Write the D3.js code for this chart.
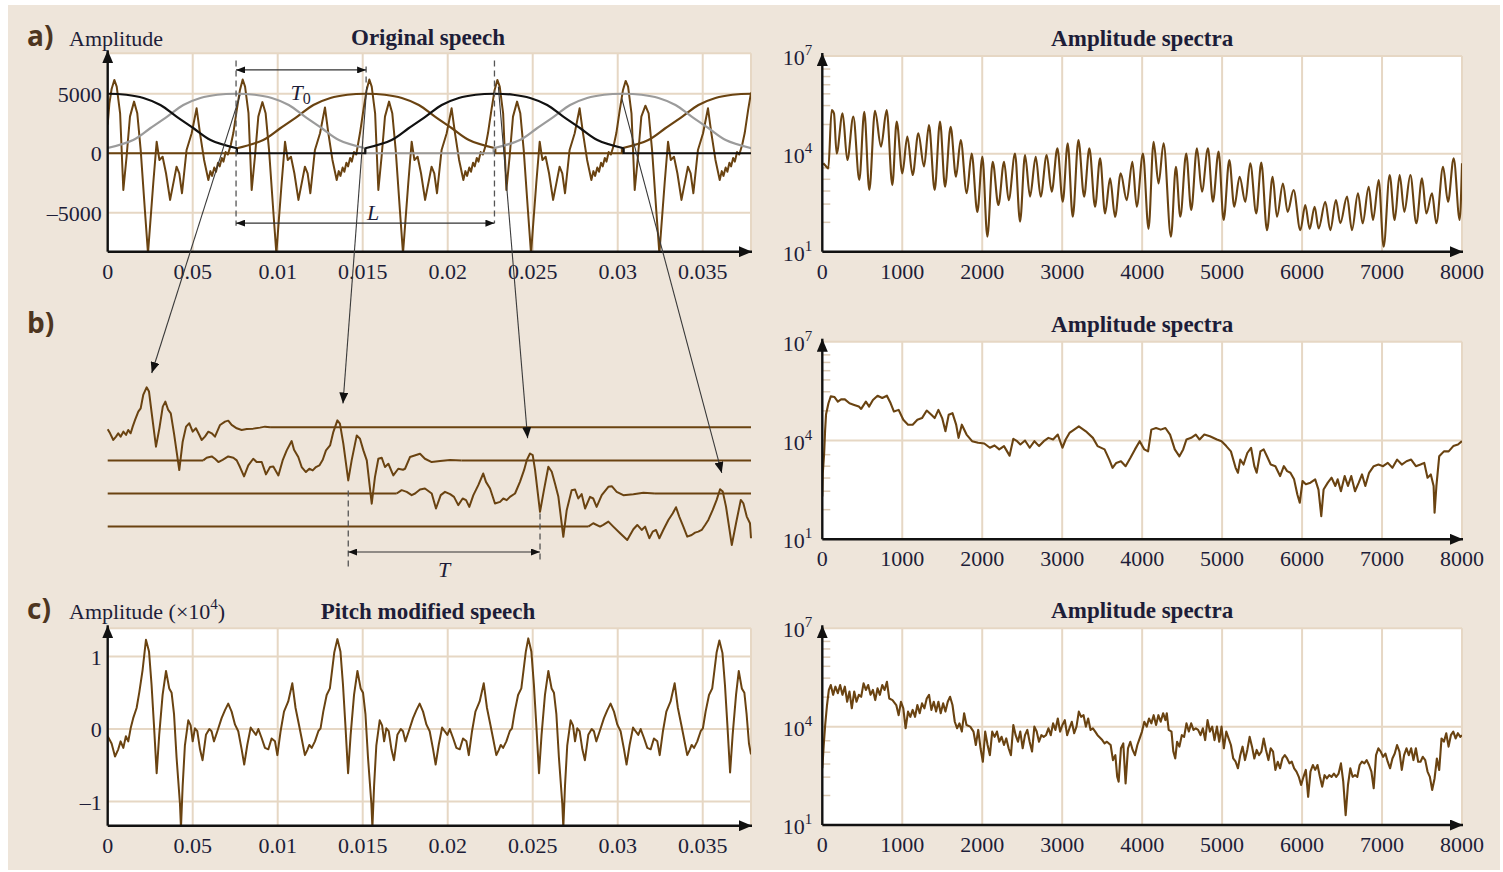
<!DOCTYPE html>
<html>
<head>
<meta charset="utf-8">
<script src="https://cdn.jsdelivr.net/npm/d3@7"></script>
<style>
  body { margin: 0; background: #fff; }
  svg { display: block; }
  text { font-family: "Liberation Serif", "Times New Roman", serif; fill: #1d1d38; }
</style>
</head>
<body>
<svg id="fig" width="1503" height="872"></svg>
<script>
// ---- data (times in ms, spectra as log10 amplitude) ----
const timeDomain = [0, 37.84];
const timeTicks = [0, 5, 10, 15, 20, 25, 30, 35];
const timeTickLabels = ["0", "0.05", "0.01", "0.015", "0.02", "0.025", "0.03", "0.035"];
const ampTicksA = [5000, 0, -5000];
const ampTickLabelsA = ["5000", "0", "\u20135000"];
const ampTicksC = [1, 0, -1];
const ampTickLabelsC = ["1", "0", "\u20131"];
const freqTicks = [0, 1000, 2000, 3000, 4000, 5000, 6000, 7000, 8000];
const specExpTicks = [7, 4, 1];
const specMinorExp = [6.6, 6.37, 6.12, 5.84, 5.48, 4.9, 3.57, 3.22, 2.86, 2.46, 1.9];

const waveA = [
  [0,2400],[0.1,4200],[0.23,5400],[0.39,6160],[0.53,5600],[0.73,3360],[0.92,-3080],[1.11,-290],[1.31,3080],[1.55,4340],[1.74,3360],[1.94,280],[2.2,-5040],[2.37,-8400],[2.68,-2520],[2.88,970],[3.04,-560],[3.23,-290],[3.43,-1680],[3.67,-3920],[3.9,-2240],[4.05,-1130],[4.21,-1680],[4.37,-3360],[4.64,280],[4.94,1680],[5.23,3780],[5.43,1680],[5.67,-560],[5.92,-2240],[6.04,-1500],[6.14,-1900],[6.27,-1200],[6.37,-1550],[6.49,-800],[6.59,-1100],[6.71,-400],[6.81,-700],[6.94,100],[7.07,-100],[7.24,700],[7.39,1700],[7.59,3630],[7.78,5320],
  [7.94,6200],[8.08,5600],[8.28,3400],[8.47,-3080],[8.66,-290],[8.86,3080],[9.1,4300],[9.29,3360],[9.49,280],[9.75,-5040],[9.92,-8400],[10.23,-2520],[10.43,970],[10.59,-560],[10.78,-290],[10.98,-1680],[11.22,-3920],[11.45,-2240],[11.6,-1130],[11.76,-1680],[11.92,-3360],[12.19,280],[12.49,1680],[12.78,3850],[12.98,1680],[13.22,-560],[13.47,-2240],[13.59,-1500],[13.69,-1900],[13.82,-1200],[13.92,-1550],[14.04,-800],[14.14,-1100],[14.26,-400],[14.36,-700],[14.49,100],[14.62,-100],[14.84,1700],[15.04,3630],[15.23,5320],
  [15.39,6200],[15.53,5600],[15.73,3360],[15.92,-3080],[16.11,-290],[16.31,3080],[16.55,4340],[16.74,3360],[16.94,280],[17.2,-5040],[17.37,-8400],[17.68,-2520],[17.88,970],[18.04,-560],[18.23,-290],[18.43,-1680],[18.67,-3920],[18.9,-2240],[19.05,-1130],[19.21,-1680],[19.37,-3360],[19.64,280],[19.94,1680],[20.23,3780],[20.43,1680],[20.67,-560],[20.92,-2240],[21.04,-1500],[21.14,-1900],[21.27,-1200],[21.37,-1550],[21.49,-800],[21.59,-1100],[21.71,-400],[21.81,-700],[21.94,100],[22.07,-100],[22.24,700],[22.37,1700],[22.57,3630],[22.76,5320],
  [22.92,6160],[23.06,5600],[23.26,3360],[23.45,-3080],[23.64,-290],[23.84,3080],[24.08,4340],[24.27,3360],[24.47,280],[24.73,-5040],[24.9,-8400],[25.21,-2520],[25.41,970],[25.57,-560],[25.76,-290],[25.96,-1680],[26.2,-3920],[26.43,-2240],[26.58,-1130],[26.74,-1680],[26.9,-3360],[27.17,280],[27.47,1680],[27.76,3780],[27.96,1680],[28.2,-560],[28.45,-2240],[28.57,-1500],[28.67,-1900],[28.8,-1200],[28.9,-1550],[29.02,-800],[29.12,-1100],[29.24,-400],[29.34,-700],[29.47,100],[29.6,-100],[29.77,700],[29.92,1700],[30.12,3630],[30.31,5320],
  [30.47,6080],[30.61,5600],[30.81,3360],[31.0,-3080],[31.19,-290],[31.39,3080],[31.63,4000],[31.82,3360],[32.02,280],[32.28,-5040],[32.45,-8400],[32.76,-2520],[32.96,970],[33.12,-560],[33.31,-290],[33.51,-1680],[33.75,-3920],[33.98,-2240],[34.13,-1130],[34.29,-1680],[34.45,-3360],[34.72,280],[35.02,1680],[35.31,3780],[35.51,1680],[35.75,-560],[36.0,-2240],[36.12,-1500],[36.22,-1900],[36.35,-1200],[36.45,-1550],[36.57,-800],[36.67,-1100],[36.79,-400],[36.89,-700],[37.02,100],[37.15,-100],[37.32,700],[37.47,1700],[37.67,3630],[37.84,5100]
];

// analysis window: offset from centre (ms), amplitude
const windowProfile = [[-7.6,420],[-6.05,1120],[-5.05,2100],[-4.05,3080],[-3.1,4060],[-2.1,4650],[-1.1,4920],[0,5000],[1.1,4920],[2.1,4650],[3.1,4060],[4.05,3080],[5.05,2100],[6.05,1120],[7.6,420]];
const windowCentresBlack = [0, 22.75];
const windowCentresGray = [7.55, 30.3];
const windowCentresBrown = [15.2, 37.85];
const pitchMarksA = [7.55, 15.2, 22.75];

// panel b: windowed segments placed at the new pitch marks
const segB1 = [[0,-316],[0.14,-950],[0.33,-2000],[0.49,-1480],[0.62,-950],[0.76,-1480],[0.92,-690],[1.08,-1210],[1.21,-420],[1.35,-950],[1.47,105],[1.61,1160],[1.8,2480],[1.94,3000],[2.09,5110],[2.29,6320],[2.43,5640],[2.59,2210],[2.84,-3060],[3.04,-160],[3.24,3270],[3.39,4060],[3.56,2740],[3.71,2210],[3.9,-950],[4.21,-6750],[4.41,-2270],[4.61,105],[4.8,630],[5.0,-690],[5.19,-160],[5.39,-1210],[5.53,-2000],[5.72,-1480],[5.92,-690],[6.12,-950],[6.31,-1480],[6.61,370],[6.9,900],[7.09,1050],[7.29,370],[7.59,-160],[7.88,-420],[8.18,-260],[8.56,-210],[8.96,-50],[9.25,105],[9.55,0]];
const segB2 = [[5.62,0],[5.82,420],[6.12,630],[6.31,260],[6.51,-260],[6.76,100],[7.09,630],[7.39,420],[7.59,0],[7.78,-1050],[8.02,-2530],[8.27,-790],[8.56,260],[8.76,-260],[9.06,-260],[9.31,-2210],[9.55,-1050],[9.74,-950],[10.04,-2370],[10.29,0],[10.53,1580],[10.82,3060],[10.96,1690],[11.21,530],[11.41,-1050],[11.66,-1840],[11.86,-1320],[12.06,-1580],[12.25,-1050],[12.45,-790],[12.65,105],[12.84,1580],[13.08,2370],[13.27,4480],[13.51,6320],[13.66,5800],[13.86,2640],[14.15,-3160],[14.35,0],[14.65,3950],[14.84,3430],[15.04,1580],[15.24,0],[15.53,-6850],[15.72,-2640],[15.92,260],[16.12,420],[16.31,-1050],[16.51,-530],[16.8,-2370],[17.09,-1320],[17.37,-1480],[17.49,-1320],[17.78,530],[18.37,1050],[18.66,260],[19.06,-260],[19.55,-100],[20.14,50],[20.82,0]];
const segB3 = [[17.0,0],[17.29,530],[17.59,260],[17.88,-260],[18.08,0],[18.37,630],[18.66,790],[19.06,0],[19.31,-2370],[19.59,-260],[19.84,260],[20.14,-100],[20.37,-530],[20.62,-1840],[20.88,-790],[21.08,-1050],[21.27,-2110],[21.51,-260],[21.8,1320],[22.09,3160],[22.25,1840],[22.49,790],[22.78,-1580],[23.08,-1320],[23.27,-790],[23.47,-1050],[23.66,-530],[23.96,0],[24.25,1840],[24.49,3690],[24.65,5270],[24.84,6320],[25.0,6060],[25.14,3690],[25.43,-2900],[25.66,530],[25.92,4220],[26.12,3430],[26.31,1580],[26.51,-530],[26.8,-6850],[27.0,-2640],[27.29,530],[27.49,630],[27.68,-790],[27.88,-100],[28.08,-2370],[28.37,-530],[28.56,-790],[28.76,-2110],[29.06,-260],[29.45,1050],[29.65,1160],[29.94,260],[30.33,-260],[30.92,-100],[31.51,100],[32.19,0]];
const segB4 = [[28.27,0],[28.56,530],[28.96,0],[29.15,260],[29.45,790],[29.74,0],[30.14,-1050],[30.56,-2110],[30.92,-420],[31.15,260],[31.41,-530],[31.61,0],[31.86,-1840],[32.06,-790],[32.25,-530],[32.45,-1840],[32.68,-530],[32.98,1050],[33.24,2110],[33.43,3060],[33.62,1580],[33.86,0],[34.09,-1580],[34.35,-1320],[34.55,-950],[34.74,-790],[34.94,-530],[35.14,260],[35.33,1050],[35.59,2640],[35.82,4220],[36.02,5900],[36.18,5530],[36.37,3160],[36.71,-2900],[36.96,530],[37.24,4220],[37.39,3690],[37.59,1580],[37.78,530],[37.84,-1840]];
const pitchMarksB = [14.15, 25.43];

// lines from analysis peaks (panel a: time, amplitude) to segment peaks (panel b: segment, time, amplitude)
const crossArrows = [
  { from: [7.79, 4900], seg: 0, to: [2.59, 8580] },
  { from: [15.24, 5600], seg: 1, to: [13.84, 9000] },
  { from: [22.98, 5600], seg: 2, to: [24.7, 8740] },
  { from: [30.24, 4620], seg: 3, to: [36.12, 8480] }
];

const waveC = [
  [0,-0.1],[0.23,-0.2],[0.43,-0.38],[0.62,-0.28],[0.76,-0.17],[0.92,-0.26],[1.07,-0.1],[1.21,-0.17],[1.35,0.01],[1.5,0.15],[1.7,0.29],[1.86,0.51],[2.05,0.81],[2.25,1.23],[2.43,1.07],[2.58,0.61],[2.72,0.06],[2.88,-0.61],[3.03,-0.08],[3.23,0.47],[3.43,0.8],[3.62,0.56],[3.76,0.5],[3.9,0.21],[4.05,-0.39],[4.25,-1.03],[4.31,-1.36],[4.41,-0.78],[4.54,-0.23],[4.74,0.12],[4.88,0.05],[5.0,-0.17],[5.13,0.01],[5.27,-0.03],[5.43,-0.28],[5.58,-0.43],[5.78,-0.08],[5.98,0.0],[6.11,-0.03],[6.25,-0.17],[6.45,-0.03],[6.7,0.15],[6.9,0.26],[7.09,0.35],[7.29,0.24],[7.49,0.06],[7.68,-0.03],[7.88,-0.28],[8.03,-0.49],[8.21,-0.22],[8.41,0.02],[8.56,-0.03],[8.72,-0.08],[8.86,0.0],[9.05,-0.12],[9.25,-0.26],[9.45,-0.28],[9.64,-0.13],[9.84,-0.17],[9.98,-0.36],[10.17,-0.03],[10.37,0.24],[10.62,0.38],[10.86,0.63],[11.05,0.29],[11.25,0.06],[11.41,-0.13],[11.6,-0.36],[11.74,-0.29],[11.86,-0.22],[12.0,-0.26],[12.19,-0.17],[12.39,-0.03],[12.52,0.01],[12.68,0.24],[12.88,0.47],[13.07,0.56],[13.21,0.83],[13.33,1.06],
  [13.51,1.24],[13.69,1.07],[13.84,0.61],[13.98,0.06],[14.14,-0.61],[14.29,-0.08],[14.49,0.47],[14.69,0.8],[14.88,0.56],[15.02,0.5],[15.16,0.21],[15.31,-0.39],[15.51,-1.03],[15.57,-1.36],[15.67,-0.78],[15.8,-0.23],[16.0,0.12],[16.14,0.05],[16.26,-0.17],[16.39,0.01],[16.53,-0.03],[16.69,-0.28],[16.84,-0.43],[17.04,-0.08],[17.24,0.0],[17.37,-0.03],[17.51,-0.17],[17.71,-0.03],[17.96,0.15],[18.16,0.26],[18.35,0.35],[18.55,0.24],[18.75,0.06],[18.94,-0.03],[19.14,-0.28],[19.29,-0.49],[19.47,-0.22],[19.67,0.02],[19.82,-0.03],[19.98,-0.08],[20.12,0.0],[20.31,-0.12],[20.51,-0.26],[20.71,-0.28],[20.9,-0.13],[21.1,-0.17],[21.24,-0.36],[21.43,-0.03],[21.63,0.24],[21.88,0.38],[22.12,0.63],[22.31,0.29],[22.51,0.06],[22.67,-0.13],[22.86,-0.36],[23.0,-0.29],[23.12,-0.22],[23.26,-0.26],[23.45,-0.17],[23.65,-0.03],[23.78,0.01],[23.94,0.24],[24.14,0.47],[24.33,0.56],[24.47,0.83],[24.59,1.06],
  [24.74,1.25],[24.92,1.07],[25.07,0.61],[25.21,0.06],[25.37,-0.61],[25.52,-0.08],[25.72,0.47],[25.92,0.8],[26.11,0.56],[26.25,0.5],[26.39,0.21],[26.54,-0.39],[26.74,-1.03],[26.8,-1.36],[26.9,-0.78],[27.03,-0.23],[27.23,0.12],[27.37,0.05],[27.49,-0.17],[27.62,0.01],[27.76,-0.03],[27.92,-0.28],[28.07,-0.43],[28.27,-0.08],[28.47,0.0],[28.6,-0.03],[28.74,-0.17],[28.94,-0.03],[29.19,0.15],[29.39,0.26],[29.58,0.35],[29.78,0.24],[29.98,0.06],[30.17,-0.03],[30.37,-0.28],[30.52,-0.49],[30.7,-0.22],[30.9,0.02],[31.05,-0.03],[31.21,-0.08],[31.35,0.0],[31.54,-0.12],[31.74,-0.26],[31.94,-0.28],[32.13,-0.13],[32.33,-0.17],[32.47,-0.36],[32.66,-0.03],[32.86,0.24],[33.11,0.38],[33.35,0.63],[33.54,0.29],[33.74,0.06],[33.9,-0.13],[34.09,-0.36],[34.23,-0.29],[34.35,-0.22],[34.49,-0.26],[34.68,-0.17],[34.88,-0.03],[35.01,0.01],[35.17,0.24],[35.37,0.47],[35.56,0.56],[35.7,0.83],[35.82,1.06],
  [35.98,1.22],[36.16,1.05],[36.31,0.6],[36.45,0.06],[36.61,-0.6],[36.76,-0.08],[36.96,0.47],[37.12,0.8],[37.3,0.56],[37.45,0.5],[37.58,0.21],[37.72,-0.2],[37.84,-0.35]
];

const specA = [[12,3.71],[54,3.6],[75,3.55],[117,5.34],[146,5.24],[179,4.01],[254,5.24],[313,3.81],[388,5.14],[463,3.2],[525,5.29],[588,2.89],[659,5.32],[734,4.22],[805,5.34],[876,3.04],[930,4.99],[1001,3.4],[1063,4.53],[1130,3.35],[1201,4.63],[1272,3.61],[1334,4.88],[1405,2.89],[1472,4.99],[1535,2.99],[1605,4.83],[1672,3.3],[1731,4.42],[1806,2.79],[1868,4.01],[1939,2.22],[2002,3.91],[2064,1.46],[2131,3.76],[2202,2.43],[2273,3.76],[2331,2.58],[2410,4.01],[2473,1.92],[2535,3.96],[2598,2.69],[2669,3.91],[2731,2.69],[2806,3.96],[2869,2.84],[2940,4.17],[3007,2.53],[3069,4.32],[3132,2.07],[3203,4.42],[3274,2.69],[3340,4.17],[3411,2.38],[3474,3.86],[3536,2.17],[3599,3.25],[3661,2.07],[3732,3.4],[3807,2.58],[3878,3.76],[3932,2.38],[4010,4.01],[4080,1.7],[4143,4.37],[4205,3.09],[4268,4.32],[4360,1.46],[4422,3.6],[4477,2.07],[4551,4.01],[4614,2.28],[4685,4.17],[4748,2.84],[4823,4.17],[4885,2.53],[4956,4.07],[5019,1.97],[5090,3.81],[5152,2.38],[5219,3.3],[5290,2.53],[5352,3.71],[5427,2.17],[5490,3.73],[5561,1.66],[5632,3.3],[5686,2.07],[5761,3.09],[5819,2.22],[5894,2.89],[5978,1.66],[6040,2.43],[6095,1.7],[6157,2.38],[6207,1.71],[6290,2.53],[6353,1.66],[6424,2.58],[6478,1.87],[6562,2.69],[6624,1.66],[6699,2.79],[6758,1.87],[6833,2.99],[6887,1.97],[6958,3.2],[7020,1.15],[7095,3.35],[7158,1.97],[7220,3.35],[7279,2.22],[7354,3.35],[7429,1.87],[7500,3.25],[7554,2.17],[7625,2.79],[7679,1.87],[7763,3.6],[7825,2.53],[7896,3.86],[7971,1.97],[8000,3.71]];

const specB = [[0,2.3],[6,3.0],[23,3.6],[35,4.3],[47,4.8],[77,5.13],[106,5.34],[153,5.32],[194,5.18],[235,5.25],[282,5.25],[340,5.13],[399,5.08],[457,5.03],[486,4.96],[545,5.18],[586,5.03],[633,5.23],[691,5.36],[750,5.29],[808,5.36],[855,5.13],[896,4.88],[955,4.93],[1013,4.63],[1072,4.48],[1130,4.48],[1189,4.63],[1247,4.68],[1306,4.91],[1364,4.78],[1405,4.68],[1452,4.93],[1499,4.68],[1540,4.28],[1581,4.78],[1628,4.83],[1674,4.48],[1704,4.08],[1745,4.48],[1804,4.18],[1873,3.98],[1949,3.93],[2026,3.91],[2096,3.78],[2154,3.85],[2213,3.73],[2272,3.83],[2342,3.54],[2389,4.05],[2436,3.98],[2477,3.88],[2535,4.0],[2594,3.78],[2653,3.98],[2711,3.83],[2770,3.98],[2828,4.08],[2886,4.03],[2945,4.18],[3003,3.78],[3044,4.03],[3091,4.23],[3150,4.33],[3208,4.43],[3296,4.28],[3384,4.08],[3442,3.83],[3530,3.73],[3589,3.42],[3630,3.17],[3676,3.32],[3735,3.37],[3793,3.22],[3852,3.47],[3910,3.73],[3969,3.98],[4027,3.73],[4074,3.67],[4115,4.33],[4174,4.38],[4232,4.33],[4291,4.38],[4349,4.18],[4408,3.73],[4466,3.52],[4513,3.73],[4554,4.03],[4613,4.08],[4671,4.18],[4718,4.03],[4777,4.18],[4847,4.13],[4935,4.03],[4993,3.98],[5052,3.83],[5110,3.67],[5169,3.17],[5198,3.02],[5227,3.42],[5268,3.27],[5315,3.62],[5362,3.78],[5403,3.22],[5432,3.02],[5479,3.67],[5520,3.73],[5561,3.52],[5608,3.27],[5666,3.22],[5725,2.92],[5772,3.22],[5813,3.07],[5854,3.02],[5900,2.82],[5941,2.36],[5971,2.11],[6006,2.77],[6047,2.67],[6105,2.72],[6164,2.82],[6205,2.51],[6240,1.7],[6269,2.51],[6322,2.72],[6369,2.87],[6416,2.62],[6445,2.82],[6486,2.46],[6533,2.92],[6574,2.62],[6615,2.92],[6662,2.46],[6709,2.72],[6750,2.97],[6791,2.62],[6838,3.02],[6896,3.22],[6955,3.27],[7013,3.22],[7072,3.32],[7130,3.17],[7189,3.42],[7247,3.27],[7306,3.37],[7364,3.42],[7423,3.22],[7481,3.27],[7528,3.32],[7569,2.87],[7610,2.97],[7645,2.62],[7657,1.81],[7680,2.62],[7715,3.52],[7774,3.67],[7833,3.67],[7891,3.83],[7950,3.88],[8000,3.98]];

const specC = [[0,2.73],[18,3.44],[36,4.05],[59,4.66],[82,5.12],[106,5.27],[135,4.97],[164,5.22],[194,5.02],[223,5.27],[252,4.97],[282,5.22],[311,4.76],[340,5.07],[369,4.56],[399,5.07],[428,4.76],[457,4.97],[486,4.91],[516,5.32],[545,5.12],[574,5.27],[603,4.97],[633,5.12],[662,4.81],[691,5.17],[720,4.97],[750,5.27],[779,5.12],[808,5.37],[837,4.86],[878,4.81],[925,4.66],[955,4.35],[984,4.76],[1013,4.56],[1042,3.95],[1072,4.46],[1101,4.3],[1130,4.51],[1160,4.3],[1189,4.66],[1218,4.41],[1247,4.71],[1277,4.56],[1306,4.86],[1335,4.97],[1364,4.51],[1394,4.76],[1423,4.46],[1452,4.76],[1481,4.41],[1511,4.71],[1540,4.46],[1569,4.76],[1598,4.91],[1628,4.66],[1657,4.15],[1686,3.95],[1715,4.1],[1745,3.85],[1774,4.41],[1803,4.05],[1850,4.0],[1891,3.85],[1920,3.44],[1950,3.9],[1979,3.34],[2008,2.93],[2037,3.85],[2067,3.44],[2096,3.13],[2125,3.85],[2155,3.69],[2184,3.85],[2213,3.54],[2242,3.69],[2272,3.44],[2301,3.64],[2330,3.34],[2359,3.13],[2389,4.05],[2418,3.74],[2447,3.54],[2476,3.85],[2506,3.34],[2535,3.74],[2564,3.9],[2593,3.54],[2623,3.24],[2652,4.0],[2681,3.85],[2710,3.54],[2740,3.74],[2769,3.69],[2798,3.74],[2828,3.95],[2857,3.74],[2886,4.1],[2915,3.9],[2945,4.25],[2974,3.85],[3003,4.05],[3033,4.2],[3062,3.74],[3091,3.95],[3120,4.15],[3150,3.8],[3179,4.0],[3208,4.46],[3237,4.3],[3267,4.35],[3296,4.0],[3325,4.25],[3355,3.9],[3384,3.95],[3413,3.85],[3442,3.74],[3501,3.59],[3530,3.49],[3559,3.54],[3606,3.44],[3635,2.98],[3665,3.13],[3688,2.47],[3706,2.32],[3735,3.34],[3764,3.49],[3793,2.27],[3823,3.34],[3852,3.54],[3881,3.29],[3910,3.13],[3940,3.44],[3969,3.64],[3998,3.85],[4027,4.15],[4057,4.0],[4086,4.25],[4115,4.1],[4144,4.35],[4174,4.05],[4203,4.35],[4232,4.15],[4262,4.41],[4291,4.2],[4308,4.41],[4332,3.9],[4367,3.85],[4390,3.24],[4414,3.03],[4437,3.54],[4466,3.39],[4496,3.74],[4525,3.69],[4554,4.1],[4584,3.85],[4613,4.1],[4642,3.9],[4671,3.95],[4700,3.9],[4730,3.74],[4759,3.95],[4788,3.59],[4818,4.2],[4847,3.85],[4876,4.0],[4905,3.59],[4935,4.0],[4964,3.54],[4993,4.0],[5022,3.34],[5052,3.85],[5081,3.64],[5110,3.44],[5139,3.03],[5169,2.93],[5198,2.73],[5227,3.13],[5256,3.39],[5286,2.98],[5315,3.29],[5344,3.69],[5374,3.39],[5403,3.03],[5432,3.29],[5461,3.13],[5491,3.24],[5520,3.64],[5549,3.29],[5579,2.98],[5608,3.34],[5637,3.24],[5666,2.68],[5696,2.93],[5725,2.73],[5754,3.03],[5784,3.13],[5813,3.03],[5842,2.88],[5871,2.93],[5901,2.73],[5930,2.63],[5959,2.47],[5988,2.22],[6018,2.47],[6047,2.68],[6076,1.86],[6105,2.63],[6135,2.83],[6164,2.68],[6193,2.83],[6223,2.47],[6252,2.17],[6281,2.52],[6310,2.42],[6340,2.52],[6369,2.47],[6398,2.57],[6427,2.47],[6457,2.57],[6486,2.88],[6515,2.32],[6545,1.3],[6574,2.22],[6603,2.73],[6632,2.47],[6662,2.52],[6691,2.47],[6720,2.83],[6749,2.93],[6779,2.88],[6808,2.98],[6837,2.83],[6867,2.63],[6896,2.12],[6925,3.13],[6954,3.34],[6984,3.24],[7013,3.08],[7042,3.18],[7071,2.93],[7101,2.73],[7130,3.03],[7159,3.18],[7188,3.44],[7218,3.24],[7247,2.68],[7276,3.13],[7306,3.34],[7335,3.13],[7364,3.34],[7393,2.98],[7423,3.34],[7452,2.93],[7481,2.93],[7510,3.08],[7540,2.98],[7569,2.63],[7598,2.47],[7627,2.07],[7657,2.42],[7686,3.03],[7715,2.68],[7744,3.64],[7774,3.54],[7803,3.8],[7832,3.39],[7861,3.74],[7891,3.85],[7920,3.64],[7949,3.8],[7979,3.69],[8000,3.74]];

// ---- drawing ----
const C = { bg: "#eee5da", grid: "#e6d7c4", wave: "#6a4311", gray: "#9b9b9b", ink: "#111", letter: "#4d3520" };
const X0 = 107.7, X1 = 751, SX0 = 822.3, SX1 = 1462;

const svg = d3.select("#fig");
svg.append("rect").attr("x", 8).attr("y", 5).attr("width", 1492).attr("height", 865).attr("fill", C.bg);

const defs = svg.append("defs");
function marker(id, len, half) {
  defs.append("marker").attr("id", id)
    .attr("viewBox", `0 ${-half} ${len} ${2 * half}`)
    .attr("refX", len).attr("refY", 0)
    .attr("markerUnits", "userSpaceOnUse")
    .attr("markerWidth", len).attr("markerHeight", 2 * half)
    .attr("orient", "auto-start-reverse")
    .append("path").attr("d", `M0,${-half}L${len},0L0,${half}Z`).attr("fill", C.ink);
}
marker("axisHead", 13, 5.5);
marker("dimHead", 9, 3.5);
marker("linkHead", 11, 4.5);

function clip(id, x0, x1, top, bottom) {
  defs.append("clipPath").attr("id", id).append("rect")
    .attr("x", x0).attr("y", top - 1).attr("width", x1 - x0).attr("height", bottom - top + 2);
}

function frame(x0, x1, top, bottom, xs, ys, xTicks, yTicks) {
  svg.append("rect").attr("x", x0).attr("y", top).attr("width", x1 - x0).attr("height", bottom - top).attr("fill", "#fff");
  const g = svg.append("g").attr("stroke", C.grid).attr("stroke-width", 2);
  xTicks.forEach(t => g.append("line").attr("x1", xs(t)).attr("x2", xs(t)).attr("y1", top).attr("y2", bottom));
  yTicks.forEach(v => g.append("line").attr("x1", x0).attr("x2", x1).attr("y1", ys(v)).attr("y2", ys(v)));
}

function axes(x0, x1, top, bottom) {
  const g = svg.append("g").attr("stroke", C.ink).attr("stroke-width", 2.4);
  g.append("line").attr("x1", x0).attr("y1", bottom).attr("x2", x0).attr("y2", top - 3).attr("marker-end", "url(#axisHead)");
  g.append("line").attr("x1", x0).attr("y1", bottom).attr("x2", x1 + 1).attr("y2", bottom).attr("marker-end", "url(#axisHead)");
}

function text(x, y, str, opts = {}) {
  return svg.append("text").attr("x", x).attr("y", y)
    .attr("font-size", opts.size || 22)
    .attr("font-weight", opts.bold ? "bold" : null)
    .attr("text-anchor", opts.anchor || "start")
    .text(str);
}

function letter(x, y, str) {
  svg.append("text").attr("x", x).attr("y", y).attr("font-size", 28).attr("font-weight", 700)
    .style("font-family", "'Open Sans', 'DejaVu Sans', sans-serif").style("fill", C.letter).text(str);
}

// time-domain panel (a or c)
function timePanel(id, top, bottom, yDomain, ticks, tickLabels) {
  const x = d3.scaleLinear().domain(timeDomain).range([X0, X1]);
  const y = d3.scaleLinear().domain(yDomain).range([bottom, top]);
  frame(X0, X1, top, bottom, x, y, timeTicks.slice(1).concat([timeDomain[1]]), ticks.concat([yDomain[1]]));
  clip(id, X0, X1, top, bottom);
  timeTicks.forEach((t, i) => text(x(t), bottom + 27, timeTickLabels[i], { anchor: "middle" }));
  ticks.forEach((v, i) => text(X0 - 6, y(v) + 8, tickLabels[i], { anchor: "end" }));
  return { x, y, g: svg.append("g").attr("clip-path", `url(#${id})`) };
}

// spectrum panel
function specPanel(id, top, bottom, data, title, curve) {
  const x = d3.scaleLinear().domain([0, 8000]).range([SX0, SX1]);
  const y = d3.scaleLog().domain([10, 1e7]).range([bottom, top]);
  frame(SX0, SX1, top, bottom, x, y, freqTicks.slice(1), [1e4, 1e7]);
  clip(id, SX0, SX1, top, bottom);
  svg.append("g").attr("stroke", "#dccbb6").attr("stroke-width", 1.5).selectAll("line")
    .data(specMinorExp).join("line")
    .attr("x1", SX0).attr("x2", SX0 + 8).attr("y1", e => y(10 ** e)).attr("y2", e => y(10 ** e));
  svg.append("g").attr("clip-path", `url(#${id})`).append("path")
    .attr("d", d3.line().x(d => x(d[0])).y(d => y(10 ** d[1])).curve(curve || d3.curveLinear)(data))
    .attr("fill", "none").attr("stroke", C.wave).attr("stroke-width", 2.1).attr("stroke-linejoin", "round");
  freqTicks.forEach(f => text(x(f), bottom + 27, f, { anchor: "middle" }));
  specExpTicks.forEach(e => {
    const t = text(SX0 - 10, y(10 ** e) + 9, "", { anchor: "end" });
    t.append("tspan").text("10");
    t.append("tspan").attr("dy", -10).attr("font-size", 15).text(e);
  });
  text((SX0 + SX1) / 2, top - 10, title, { anchor: "middle", bold: true, size: 23 });
  axes(SX0, SX1, top, bottom);
}

// ---- panel a ----
const pa = timePanel("clipA", 53.3, 251.7, [-8270, 8400], ampTicksA, ampTickLabelsA);
const waveLine = (p) => d3.line().x(d => p.x(d[0])).y(d => p.y(d[1]));
pa.g.append("path").attr("d", waveLine(pa)(waveA))
  .attr("fill", "none").attr("stroke", C.wave).attr("stroke-width", 2).attr("stroke-linejoin", "round");

function drawWindow(centres, colour) {
  const g = pa.g.append("g").attr("fill", "none").attr("stroke", colour).attr("stroke-width", 2.2);
  const lobe = d3.line().x(d => pa.x(d[0])).y(d => pa.y(d[1])).curve(d3.curveCatmullRom);
  const half = windowProfile[windowProfile.length - 1][0];
  const edge = windowProfile[0][1];
  centres.forEach(c => g.append("path").attr("d", lobe(windowProfile.map(p => [c + p[0], p[1]]))));
  let start = timeDomain[0];
  const rests = [];
  centres.forEach(c => { if (c - half > start) rests.push([start, c - half]); start = c + half; });
  if (start < timeDomain[1]) rests.push([start, timeDomain[1]]);
  rests.forEach(([a, b]) => {
    const pts = [];
    if (a > timeDomain[0]) pts.push([a, edge]);
    pts.push([a, 0], [b, 0]);
    if (b < timeDomain[1]) pts.push([b, edge]);
    g.append("path").attr("d", d3.line().x(d => pa.x(d[0])).y(d => pa.y(d[1]))(pts));
  });
}
drawWindow(windowCentresBrown, C.wave);
drawWindow(windowCentresGray, C.gray);
drawWindow(windowCentresBlack, C.ink);
axes(X0, X1, 53.3, 251.7);

// pitch marks and T0 / L dimensions
const dash = svg.append("g").attr("stroke", "#555").attr("stroke-width", 1.3).attr("stroke-dasharray", "6,4");
dash.append("line").attr("x1", pa.x(pitchMarksA[0])).attr("x2", pa.x(pitchMarksA[0])).attr("y1", pa.y(7800)).attr("y2", pa.y(-6100));
dash.append("line").attr("x1", pa.x(pitchMarksA[1])).attr("x2", pa.x(pitchMarksA[1])).attr("y1", pa.y(7300)).attr("y2", pa.y(5800));
dash.append("line").attr("x1", pa.x(pitchMarksA[2])).attr("x2", pa.x(pitchMarksA[2])).attr("y1", pa.y(7800)).attr("y2", pa.y(-5870));
function dimension(x1, x2, y) {
  svg.append("line").attr("x1", x1).attr("x2", x2).attr("y1", y).attr("y2", y)
    .attr("stroke", "#333").attr("stroke-width", 1.2)
    .attr("marker-start", "url(#dimHead)").attr("marker-end", "url(#dimHead)");
}
dimension(pa.x(pitchMarksA[0]), pa.x(pitchMarksA[1]), pa.y(7000));
dimension(pa.x(pitchMarksA[0]), pa.x(pitchMarksA[2]), pa.y(-5870));
const t0 = text(pa.x(10.75), pa.y(4500), "T").attr("font-style", "italic");
t0.append("tspan").attr("font-style", "normal").attr("font-size", 16).attr("dy", 4).text("0");
text(pa.x(15.25), pa.y(-5600), "L").attr("font-style", "italic");

text(69, 46, "Amplitude");
text(428, 45, "Original speech", { anchor: "middle", bold: true, size: 23 });
letter(27, 46, "a)");

// ---- panel b ----
const xb = d3.scaleLinear().domain(timeDomain).range([X0, X1]);
const yb = d3.scaleLinear().domain([0, 6320]).range([0, -40]);
const trackY = i => 427.3 + 33.1 * i;
const gb = svg.append("g").attr("fill", "none").attr("stroke", C.wave).attr("stroke-width", 2).attr("stroke-linejoin", "round");
[segB1, segB2, segB3, segB4].forEach((seg, i) => {
  const base = trackY(i);
  gb.append("path").attr("d", d3.line().x(d => xb(d[0])).y(d => base + yb(d[1]))(seg));
  const first = seg[0][0], last = seg[seg.length - 1][0];
  if (first > timeDomain[0]) gb.append("line").attr("x1", xb(timeDomain[0])).attr("x2", xb(first)).attr("y1", base).attr("y2", base);
  if (last < timeDomain[1]) gb.append("line").attr("x1", xb(last)).attr("x2", xb(timeDomain[1])).attr("y1", base).attr("y2", base);
});
const dashB = svg.append("g").attr("stroke", "#555").attr("stroke-width", 1.3).attr("stroke-dasharray", "6,4");
dashB.append("line").attr("x1", xb(pitchMarksB[0])).attr("x2", xb(pitchMarksB[0])).attr("y1", trackY(2) - 3).attr("y2", 567);
dashB.append("line").attr("x1", xb(pitchMarksB[1])).attr("x2", xb(pitchMarksB[1])).attr("y1", trackY(3) - 13).attr("y2", 563);
dimension(xb(pitchMarksB[0]), xb(pitchMarksB[1]), 552);
text(xb((pitchMarksB[0] + pitchMarksB[1]) / 2), 577, "T", { anchor: "middle" }).attr("font-style", "italic");
letter(27, 333, "b)");

// links from panel a peaks to panel b segments
const gl = svg.append("g").attr("stroke", "#3a3a3a").attr("stroke-width", 1.1);
crossArrows.forEach(a => {
  gl.append("line")
    .attr("x1", pa.x(a.from[0])).attr("y1", pa.y(a.from[1]))
    .attr("x2", xb(a.to[0])).attr("y2", trackY(a.seg) + yb(a.to[1]))
    .attr("marker-end", "url(#linkHead)");
});

// ---- panel c ----
const pc = timePanel("clipC", 628.3, 825.7, [-1.333, 1.389], ampTicksC, ampTickLabelsC);
pc.g.append("path").attr("d", waveLine(pc)(waveC))
  .attr("fill", "none").attr("stroke", C.wave).attr("stroke-width", 2).attr("stroke-linejoin", "round");
axes(X0, X1, 628.3, 825.7);
const ampC = text(69, 619, "Amplitude (\u00d710");
ampC.append("tspan").attr("dy", -10).attr("font-size", 15).text("4");
ampC.append("tspan").attr("dy", 10).text(")");
text(428, 619, "Pitch modified speech", { anchor: "middle", bold: true, size: 23 });
letter(27, 619, "c)");

// ---- spectra ----
specPanel("clipSA", 56, 251.7, specA, "Amplitude spectra", d3.curveMonotoneX);
specPanel("clipSB", 341.7, 539.3, specB, "Amplitude spectra");
specPanel("clipSC", 628.3, 825, specC, "Amplitude spectra");
</script>
</body>
</html>
